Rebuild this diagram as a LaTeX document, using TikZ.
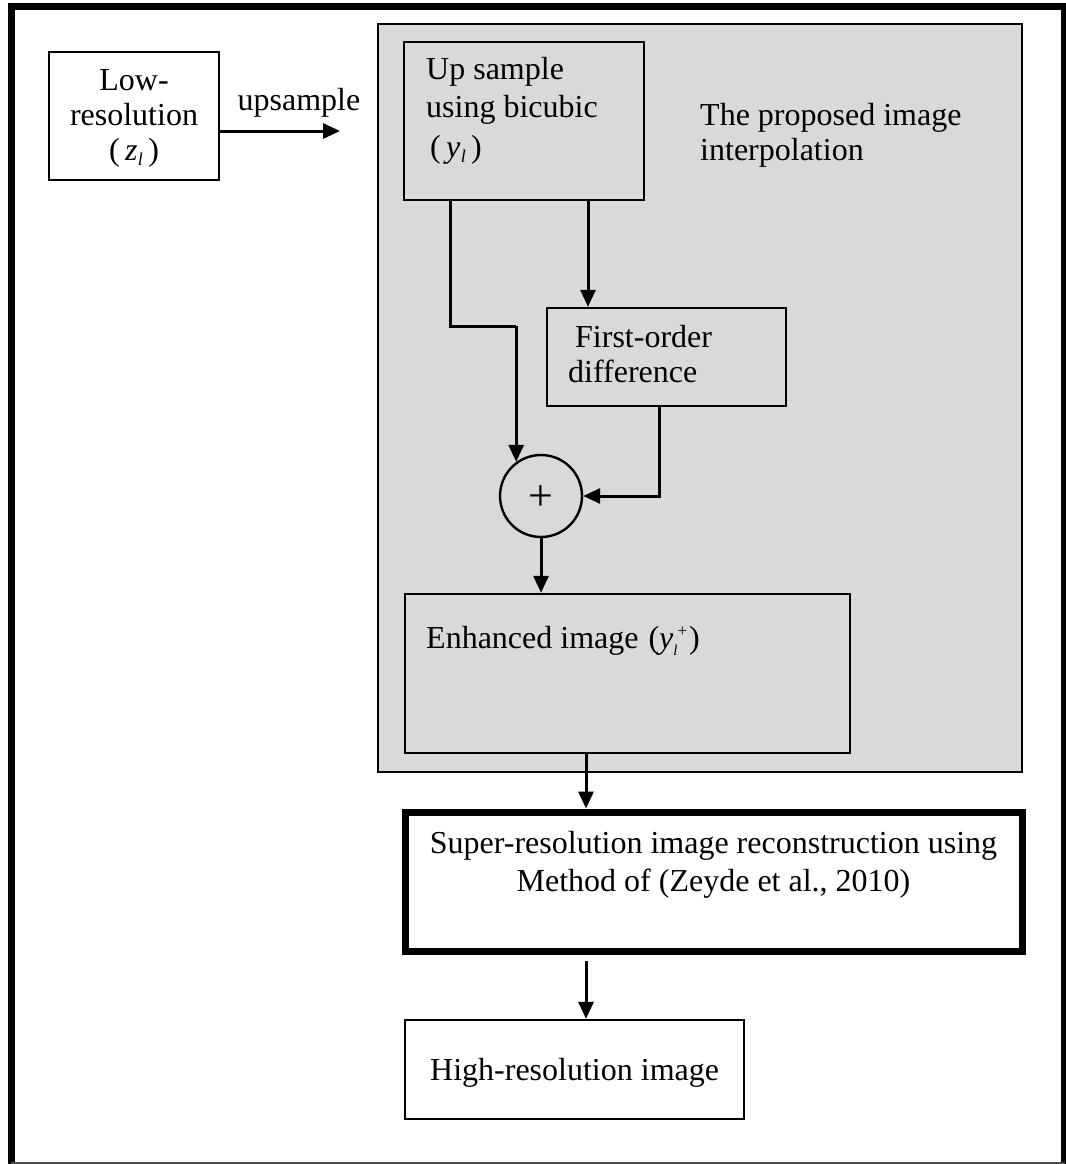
\documentclass[tikz,border=0pt]{standalone}
\usepackage{fontspec}
\setmainfont{Liberation Serif}
\usetikzlibrary{arrows.meta}
\definecolor{panelgray}{RGB}{217,217,217}
\begin{document}
\begin{tikzpicture}[x=1pt,y=-1pt,
  txt/.style={font=\fontsize{32}{37}\selectfont, inner sep=0pt},
  box/.style={draw=black, line width=2.4pt, inner sep=0pt, rectangle},
  conn/.style={line width=3pt, -{Triangle[length=17pt,width=15pt]}},
  wire/.style={line width=3pt}
]
\newcommand{\subl}{\raisebox{-5pt}{\fontsize{18}{18}\selectfont\itshape l}}
\useasboundingbox (0,0) rectangle (1065,1164);

% outer frame
\draw[line width=7pt] (11,1164) -- (11,7) -- (1064.5,7) -- (1064.5,1164);
\draw[line width=1.5pt, black!70] (11,1163.2) -- (1065,1163.2);

% shaded panel holding the interpolation stage
\node[box, fill=panelgray, minimum width=644pt, minimum height=748pt] (panel) at (700,398) {};

% boxes
\node[box, fill=white, minimum width=170pt, minimum height=128pt] (low) at (134,116) {};
\node[box, minimum width=240pt, minimum height=158pt] (up) at (524,121) {};
\node[box, minimum width=239pt, minimum height=98pt] (first) at (666.5,357) {};
\node[draw=black, line width=2.4pt, circle, minimum size=82pt, inner sep=0pt] (sum) at (541,496) {};
\node[box, minimum width=445pt, minimum height=159pt] (enh) at (627.5,673.5) {};
\node[draw=black, line width=7pt, inner sep=0pt, minimum width=617pt, minimum height=139pt] (sr) at (713.5,881.5) {};
\node[box, minimum width=339pt, minimum height=99pt] (high) at (574.5,1069.5) {};

% texts
\node[txt, anchor=base] (lowA) at (134,90) {Low-};
\node[txt, anchor=base] (lowB) at (134,125) {resolution};
\node[txt, anchor=base] (lowC) at (134,160) {(\,{\itshape z}\kern0.5pt\subl\,)};
\node[txt, anchor=base] (upl) at (299,110) {upsample};
\node[txt, anchor=base west] (upA) at (426,80) {Up sample};
\node[txt, anchor=base west] (upB) at (426,117) {using bicubic};
\node[txt, anchor=base west] (upC) at (430,157) {(\,{\itshape y}\kern0.5pt\subl\,)};
\node[txt, anchor=base west] (propA) at (700,125) {The proposed image};
\node[txt, anchor=base west] (propB) at (700,160) {interpolation};
\node[txt, anchor=base west] (firstA) at (575,347) {First-order};
\node[txt, anchor=base west] (firstB) at (568,382) {difference};
\node[txt, font=\fontsize{44}{44}\selectfont] (plus) at (541,498) {+};
\node[txt, anchor=base west] (enhA) at (426,648) {Enhanced image\hspace{10pt}({\itshape y}\raisebox{-7pt}{\fontsize{15}{15}\selectfont\itshape l}\raisebox{12pt}{\fontsize{17}{17}\selectfont +}\kern2pt)};
\node[txt, anchor=base] (srA) at (713.5,853) {Super-resolution image reconstruction using};
\node[txt, anchor=base] (srB) at (713.5,891) {Method of (Zeyde et al., 2010)};
\node[txt, anchor=base west] (highA) at (430,1080) {High-resolution image};

% connectors
\coordinate (upin) at (340,131);
\draw[conn] (low.east |- upin) -- (upin);

\coordinate (leftbend) at (sum.126 |- 0,326);
\draw[wire] (up.south -| 450,0) -- (450,326) -- (leftbend);
\draw[conn] (leftbend) -- (sum.126);

\coordinate (fa) at (588,0);
\draw[conn] (up.south -| fa) -- (first.north -| fa);

\coordinate (fb) at (659,0);
\draw[conn] (first.south -| fb) |- (sum.east);

\draw[conn] (sum.south) -- (sum.south |- enh.north);

\coordinate (ea) at (586,0);
\draw[conn] (enh.south -| ea) -- (sr.north -| ea);

\coordinate (srout) at (586,961);
\draw[conn] (srout) -- (high.north -| srout);
\end{tikzpicture}
\end{document}
